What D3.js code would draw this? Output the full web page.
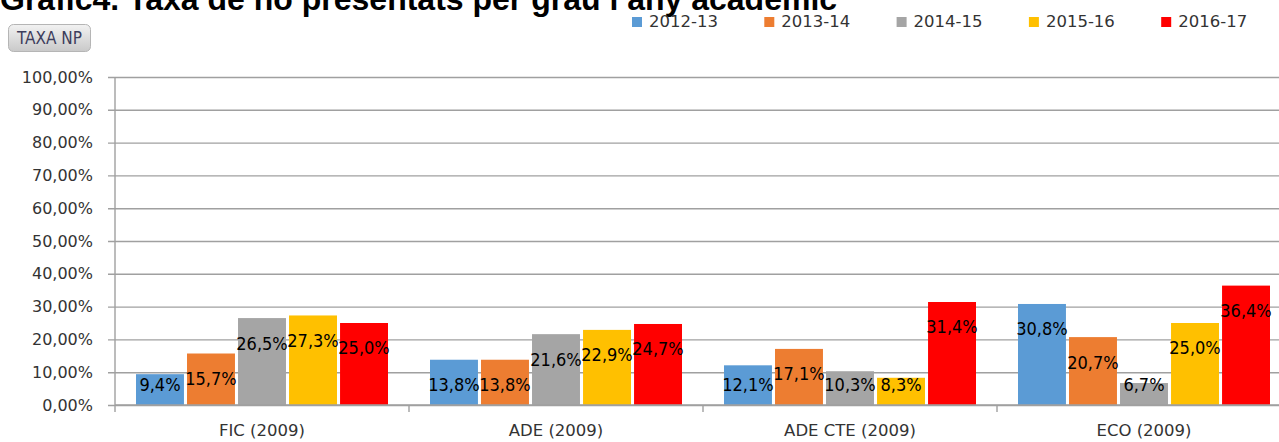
<!DOCTYPE html>
<html>
<head>
<meta charset="utf-8">
<script src="https://cdn.jsdelivr.net/npm/d3@7"></script>
<style>
  html, body { margin: 0; padding: 0; background: #ffffff; }
  svg { display: block; }
</style>
</head>
<body>
<div id="chart"></div>
<script>
// ---------- DATA ----------
const titleText = "Gràfic4. Taxa de no presentats per grau i any acadèmic";
const buttonText = "TAXA NP";
const categories = ["FIC (2009)", "ADE (2009)", "ADE CTE (2009)", "ECO (2009)"];
const seriesNames = ["2012-13", "2013-14", "2014-15", "2015-16", "2016-17"];
const v2012_13 = [9.4, 13.8, 12.1, 30.8];
const v2013_14 = [15.7, 13.8, 17.1, 20.7];
const v2014_15 = [26.5, 21.6, 10.3, 6.7];
const v2015_16 = [27.3, 22.9, 8.3, 25.0];
const v2016_17 = [25.0, 24.7, 31.4, 36.4];
const yTicks = [0, 10, 20, 30, 40, 50, 60, 70, 80, 90, 100];
const seriesColors = ["#5B9BD5", "#ED7D31", "#A5A5A5", "#FFC000", "#FF0000"];

const seriesValues = [v2012_13, v2013_14, v2014_15, v2015_16, v2016_17];

// ---------- LAYOUT ----------
const W = 1279, H = 442;
const plotLeft = 115, plotBottom = 405, plotTop = 77;
const bandEnd = 1291;

const svg = d3.select("#chart").append("svg")
  .attr("width", W).attr("height", H);

const locale = d3.formatLocale({decimal: ",", thousands: ".", grouping: [3], currency: ["", "€"]});
const fmtAxis = v => locale.format(".2f")(v) + "%";
const fmtLabel = v => locale.format(".1f")(v) + "%";

const x0 = d3.scaleBand().domain(categories).range([plotLeft, bandEnd]).padding(0);
const x1 = d3.scaleBand().domain(seriesNames).range([21, 273]).paddingInner(0.06);
const y = d3.scaleLinear().domain([0, 100]).range([plotBottom, plotTop]);

const gridColor = "#a0a0a0";

// Title (partially cut off at top, as in reference)
svg.append("text")
  .attr("x", 0).attr("y", 10)
  .attr("font-family", "'Liberation Sans', Arial, sans-serif")
  .attr("font-weight", "bold")
  .attr("font-size", 32)
  .attr("fill", "#000")
  .text(titleText);

// Button
const defs = svg.append("defs");
const grad = defs.append("linearGradient").attr("id", "btnGrad")
  .attr("x1", 0).attr("y1", 0).attr("x2", 0).attr("y2", 1);
grad.append("stop").attr("offset", "0%").attr("stop-color", "#f2f2f2");
grad.append("stop").attr("offset", "100%").attr("stop-color", "#c9c9c9");
svg.append("rect")
  .attr("x", 8.5).attr("y", 24.5).attr("width", 82).attr("height", 27)
  .attr("rx", 5).attr("ry", 5)
  .attr("fill", "url(#btnGrad)").attr("stroke", "#b5b5b5");
svg.append("text")
  .attr("x", 49.5).attr("y", 43.5)
  .attr("text-anchor", "middle")
  .attr("font-family", "'Liberation Sans Narrow', 'DejaVu Sans Condensed', 'Liberation Sans', sans-serif")
  .attr("font-size", 17)
  .attr("fill", "#3d3d5c")
  .text(buttonText);

// Gridlines
const gridAxis = d3.axisLeft(y).tickValues(yTicks).tickSize(-(W - 108)).tickFormat("");
const gGrid = svg.append("g").attr("transform", `translate(108,0)`).call(gridAxis);
gGrid.select(".domain").remove();
gGrid.selectAll(".tick line").attr("stroke", gridColor).attr("stroke-width", 1.4);

// Y tick labels
const yAxis = d3.axisLeft(y).tickValues(yTicks).tickSize(0).tickPadding(22).tickFormat(fmtAxis);
const gY = svg.append("g").attr("transform", `translate(${plotLeft},0)`).call(yAxis);
gY.select(".domain").remove();
gY.selectAll("text")
  .attr("font-family", "'DejaVu Sans', Verdana, sans-serif")
  .attr("font-size", 16)
  .attr("fill", "#333333");

// Y axis line
svg.append("line")
  .attr("x1", plotLeft).attr("x2", plotLeft)
  .attr("y1", y(100)).attr("y2", y(0))
  .attr("stroke", gridColor).attr("stroke-width", 1.4);

// Bars
const groups = svg.append("g").selectAll("g")
  .data(categories)
  .join("g")
  .attr("transform", d => `translate(${x0(d)},0)`);

groups.selectAll("rect")
  .data((c, ci) => seriesNames.map((s, si) => ({s, si, v: seriesValues[si][ci]})))
  .join("rect")
  .attr("x", d => x1(d.s))
  .attr("width", x1.bandwidth())
  .attr("y", d => y(d.v))
  .attr("height", d => y(0) - y(d.v))
  .attr("fill", d => seriesColors[d.si]);

// X axis line
svg.append("line")
  .attr("x1", plotLeft).attr("x2", W)
  .attr("y1", plotBottom).attr("y2", plotBottom)
  .attr("stroke", gridColor).attr("stroke-width", 1.4);

// X boundary ticks
svg.append("g").selectAll("line")
  .data(categories)
  .join("line")
  .attr("x1", d => x0(d)).attr("x2", d => x0(d))
  .attr("y1", plotBottom).attr("y2", plotBottom + 7)
  .attr("stroke", gridColor).attr("stroke-width", 1.4);

// X category labels
const xAxis = d3.axisBottom(x0).tickSize(0).tickPadding(19);
const gX = svg.append("g").attr("transform", `translate(0,${plotBottom})`).call(xAxis);
gX.select(".domain").remove();
gX.selectAll("text")
  .attr("font-family", "'DejaVu Sans', Verdana, sans-serif")
  .attr("font-size", 16.5)
  .attr("fill", "#333333");

// Data labels
groups.selectAll("text.lbl")
  .data((c, ci) => seriesNames.map((s, si) => ({s, si, v: seriesValues[si][ci]})))
  .join("text")
  .attr("class", "lbl")
  .attr("x", d => x1(d.s) + x1.bandwidth() / 2)
  .attr("y", d => Math.min(y(d.v) + 25, y(0) - 20))
  .attr("dy", "0.36em")
  .attr("text-anchor", "middle")
  .attr("font-family", "'Liberation Sans Narrow', 'DejaVu Sans Condensed', 'Liberation Sans', sans-serif")
  .attr("font-size", 18)
  .attr("fill", "#000000")
  .text(d => fmtLabel(d.v));

// Legend
const legend = svg.append("g").selectAll("g")
  .data(seriesNames)
  .join("g")
  .attr("transform", (d, i) => `translate(${632 + i * 132.3},17)`);
legend.append("rect")
  .attr("width", 10).attr("height", 10)
  .attr("fill", (d, i) => seriesColors[i]);
legend.append("text")
  .attr("x", 17).attr("y", 10)
  .attr("font-family", "'DejaVu Sans', Verdana, sans-serif")
  .attr("font-size", 16.5)
  .attr("fill", "#333333")
  .text(d => d);
</script>
</body>
</html>
